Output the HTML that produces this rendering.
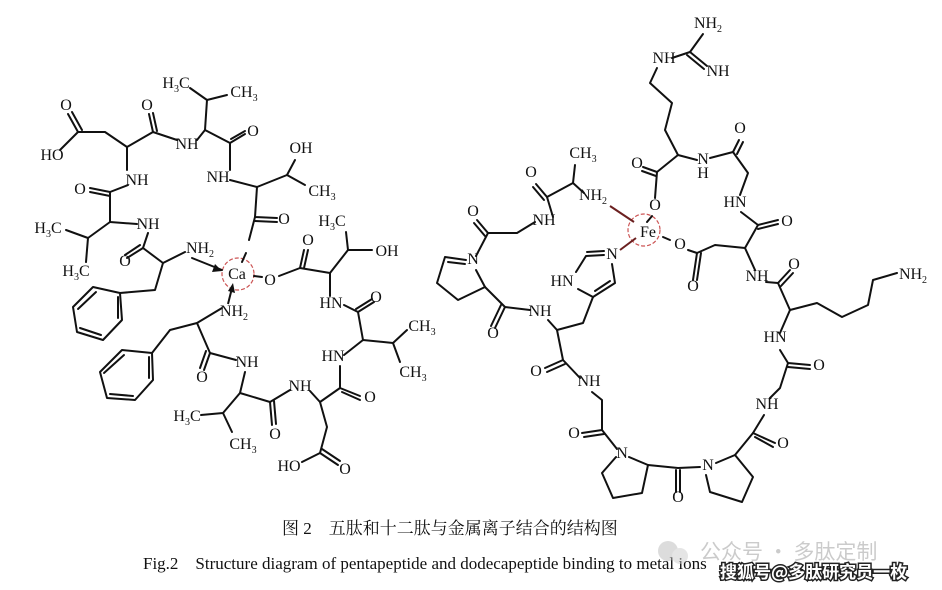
<!DOCTYPE html>
<html><head><meta charset="utf-8"><style>
html,body{margin:0;padding:0;background:#fff;}
svg{display:block}
text{font-family:"Liberation Serif","Noto Serif CJK SC",serif;font-size:16px;fill:#111;}
.b{stroke:#111;stroke-width:2;fill:none;stroke-linejoin:round;stroke-linecap:round}
.s{font-size:10px}
</style></head><body>
<svg width="942" height="590" viewBox="0 0 942 590" xmlns="http://www.w3.org/2000/svg">
<g text-anchor="middle">
<text x="176" y="88">H<tspan class="s" dy="4">3</tspan><tspan dy="-4">C</tspan></text>
<text x="244" y="97">CH<tspan class="s" dy="4">3</tspan></text>
<text x="66" y="110">O</text>
<text x="147" y="110">O</text>
<text x="253" y="136">O</text>
<text x="187" y="149">NH</text>
<text x="52" y="160">HO</text>
<text x="301" y="153">OH</text>
<text x="137" y="185">NH</text>
<text x="218" y="182">NH</text>
<text x="322" y="196">CH<tspan class="s" dy="4">3</tspan></text>
<text x="80" y="194">O</text>
<text x="284" y="224">O</text>
<text x="48" y="233">H<tspan class="s" dy="4">3</tspan><tspan dy="-4">C</tspan></text>
<text x="148" y="229">NH</text>
<text x="332" y="226">H<tspan class="s" dy="4">3</tspan><tspan dy="-4">C</tspan></text>
<text x="308" y="245">O</text>
<text x="387" y="256">OH</text>
<text x="200" y="253">NH<tspan class="s" dy="4">2</tspan></text>
<text x="125" y="266">O</text>
<text x="76" y="276">H<tspan class="s" dy="4">3</tspan><tspan dy="-4">C</tspan></text>
<text x="237" y="279">Ca</text>
<text x="270" y="285">O</text>
<text x="331" y="308">HN</text>
<text x="376" y="302">O</text>
<text x="234" y="316">NH<tspan class="s" dy="4">2</tspan></text>
<text x="422" y="331">CH<tspan class="s" dy="4">3</tspan></text>
<text x="333" y="361">HN</text>
<text x="247" y="367">NH</text>
<text x="202" y="382">O</text>
<text x="300" y="391">NH</text>
<text x="370" y="402">O</text>
<text x="413" y="377">CH<tspan class="s" dy="4">3</tspan></text>
<text x="187" y="421">H<tspan class="s" dy="4">3</tspan><tspan dy="-4">C</tspan></text>
<text x="275" y="439">O</text>
<text x="243" y="449">CH<tspan class="s" dy="4">3</tspan></text>
<text x="289" y="471">HO</text>
<text x="345" y="474">O</text>
<text x="708" y="28">NH<tspan class="s" dy="4">2</tspan></text>
<text x="664" y="63">NH</text>
<text x="718" y="76">NH</text>
<text x="740" y="133">O</text>
<text x="703" y="164">N</text>
<text x="703" y="178">H</text>
<text x="583" y="158">CH<tspan class="s" dy="4">3</tspan></text>
<text x="637" y="168">O</text>
<text x="531" y="177">O</text>
<text x="655" y="210">O</text>
<text x="593" y="200">NH<tspan class="s" dy="4">2</tspan></text>
<text x="473" y="216">O</text>
<text x="544" y="225">NH</text>
<text x="735" y="207">HN</text>
<text x="787" y="226">O</text>
<text x="648" y="237">Fe</text>
<text x="680" y="249">O</text>
<text x="612" y="259">N</text>
<text x="473" y="264">N</text>
<text x="562" y="286">HN</text>
<text x="693" y="291">O</text>
<text x="757" y="281">NH</text>
<text x="794" y="269">O</text>
<text x="913" y="279">NH<tspan class="s" dy="4">2</tspan></text>
<text x="540" y="316">NH</text>
<text x="493" y="338">O</text>
<text x="775" y="342">HN</text>
<text x="819" y="370">O</text>
<text x="536" y="376">O</text>
<text x="589" y="386">NH</text>
<text x="767" y="409">NH</text>
<text x="574" y="438">O</text>
<text x="783" y="448">O</text>
<text x="622" y="458">N</text>
<text x="708" y="470">N</text>
<text x="678" y="502">O</text>
</g>
<circle cx="238" cy="274" r="16" fill="none" stroke="#c55" stroke-width="1.2" stroke-dasharray="4 2"/>
<circle cx="644" cy="230" r="16" fill="none" stroke="#c55" stroke-width="1.2" stroke-dasharray="4 2"/>
<g class="b">
<polyline points="60,150 78,132 105,132 127,147 153,132 177,140"/>
<polyline points="78,132 68,114"/><polyline points="82,130 72,112"/>
<polyline points="153,132 149,114"/><polyline points="157,131 153,113"/>
<polyline points="197,140 205,130 230,143 245,134"/><polyline points="231,139 245,131"/>
<polyline points="190,88 207,100 227,95"/><polyline points="207,100 205,130"/>
<polyline points="230,143 230,170"/>
<polyline points="230,180 257,187 287,175 295,160"/><polyline points="287,175 305,185"/>
<polyline points="257,187 255,217 277,218"/><polyline points="255,221 277,222"/>
<polyline points="255,217 249,240"/><polyline points="246,253 242,262"/>
<polyline points="127,147 127,170"/>
<polyline points="128,185 110,192 90,188"/><polyline points="110,196 90,192"/>
<polyline points="110,192 110,222 137,224"/>
<polyline points="110,222 88,238 66,230"/><polyline points="88,238 86,262"/>
<polyline points="148,233 143,248 163,263 185,252"/><polyline points="143,248 127,258"/><polyline points="140,245 125,255"/>
<polyline points="163,263 155,290 120,293"/>
<polygon points="120,293 93,287 73,307 77,332 103,340 122,320"/>
<polyline points="96,292 78,309"/><polyline points="80,328 101,335"/><polyline points="118,297 118,318"/>
<polyline points="192,258 222,270"/>
<polyline points="222,308 197,323 170,330 152,353"/>
<polygon points="152,353 122,350 100,372 107,398 135,400 153,380"/>
<polyline points="124,355 104,373"/><polyline points="110,394 133,396"/><polyline points="149,357 149,378"/>
<polyline points="197,323 210,353 236,360"/><polyline points="210,353 204,370"/><polyline points="206,351 200,368"/>
<polyline points="245,372 240,393 270,402 290,390"/><polyline points="270,402 272,425"/><polyline points="274,401 276,424"/>
<polyline points="240,393 223,413 201,415"/><polyline points="223,413 232,432"/>
<polyline points="310,391 320,402 340,388 360,396"/><polyline points="342,392 360,400"/>
<polyline points="320,402 327,427 320,453 302,462"/><polyline points="320,453 338,465"/><polyline points="322,449 340,461"/>
<polyline points="340,388 340,366"/>
<polyline points="344,355 363,340 393,343 407,330"/><polyline points="393,343 400,362"/>
<polyline points="363,340 358,312 374,302"/><polyline points="356,309 372,299"/>
<polyline points="344,305 358,312"/>
<polyline points="330,296 330,273 348,250 372,250"/><polyline points="348,250 346,232"/>
<polyline points="330,273 300,268 279,276"/><polyline points="300,268 304,250"/><polyline points="304,268 308,250"/>
<polyline points="262,277 254,276"/>
</g>
<polygon points="222,271 212,272 215,264" fill="#111"/>
<line x1="228" y1="304" x2="232" y2="288" stroke="#111" stroke-width="2"/>
<polygon points="233,283 235,293 228,291" fill="#111"/>
<g class="b">
<polyline points="703,34 690,52 672,58"/><polyline points="690,52 707,66"/><polyline points="687,55 704,69"/>
<polyline points="657,68 650,83 672,103 665,130 678,155 697,160"/>
<polyline points="710,158 733,152 748,173 740,195"/><polyline points="733,152 739,140"/><polyline points="737,154 743,142"/>
<polyline points="678,155 657,172 643,167"/><polyline points="656,176 642,171"/>
<polyline points="657,172 655,198"/>
<polyline points="652,216 647,222"/>
<polyline points="741,212 758,225 778,220"/><polyline points="758,229 778,224"/>
<polyline points="758,225 745,248 715,245 697,253 688,250"/><polyline points="697,253 693,280"/><polyline points="701,253 697,280"/>
<polyline points="745,248 755,270"/>
<polyline points="766,282 778,283 790,270"/><polyline points="781,286 793,273"/>
<polyline points="778,283 790,310 817,303 842,317 868,305 873,280 897,273"/>
<polyline points="790,310 780,333"/>
<polyline points="780,350 788,363 810,365"/><polyline points="788,367 810,369"/>
<polyline points="788,363 780,388 770,398"/>
<polyline points="764,415 753,433 775,443"/><polyline points="755,437 773,447"/>
<polyline points="753,433 735,455 716,463"/>
<polyline points="735,455 753,477 742,502 710,492 706,475"/>
<polyline points="700,467 678,468 648,465"/><polyline points="676,470 676,492"/><polyline points="680,470 680,492"/>
<polyline points="648,465 642,493 613,498 602,473 616,457"/><polyline points="629,457 648,465"/>
<polyline points="617,449 602,430 582,433"/><polyline points="604,434 584,437"/>
<polyline points="602,430 602,400 592,392"/>
<polyline points="580,378 563,360 545,368"/><polyline points="565,364 547,372"/>
<polyline points="563,360 557,330 583,323 593,297"/>
<polyline points="557,330 548,320"/>
<polyline points="593,297 615,283 612,264"/><polyline points="595,291 610,281"/>
<polyline points="604,255 586,256 576,272"/><polyline points="604,251 587,252"/>
<polyline points="578,289 593,297"/>
<polyline points="530,310 505,307 485,287"/><polyline points="505,307 495,328"/><polyline points="501,305 491,326"/>
<polyline points="485,287 458,300 437,283 445,257 466,260"/><polyline points="448,262 465,264"/>
<polyline points="485,287 476,270"/>
<polyline points="476,256 488,233 517,233 535,222"/><polyline points="488,233 477,220"/><polyline points="485,236 474,223"/>
<polyline points="553,217 547,197 573,183 584,193"/><polyline points="547,197 536,184"/><polyline points="544,200 533,187"/>
<polyline points="573,183 575,165"/>
<polyline points="670,240 663,237"/>
</g>
<line x1="610" y1="206" x2="634" y2="222" stroke="#6b2020" stroke-width="2"/>
<line x1="620" y1="250" x2="636" y2="238" stroke="#6b2020" stroke-width="2"/>
<text x="282" y="534" style="font-size:17px">图 2　五肽和十二肽与金属离子结合的结构图</text>
<text x="143" y="569" style="font-size:17px">Fig.2　Structure diagram of pentapeptide and dodecapeptide binding to metal ions</text>
<g opacity="0.5">
<circle cx="668" cy="551" r="10" fill="#bbb"/><circle cx="680" cy="556" r="8" fill="#ccc"/>
<text x="700" y="559" style="font-size:21px;fill:#999;font-family:'Noto Sans CJK SC',sans-serif">公众号 · 多肽定制</text>
</g>
<text x="720" y="578" style="font-size:17px;font-weight:bold;fill:#fff;stroke:#222;stroke-width:3;paint-order:stroke;font-family:'Noto Sans CJK SC',sans-serif">搜狐号@多肽研究员一枚</text>
</svg>
</body></html>
